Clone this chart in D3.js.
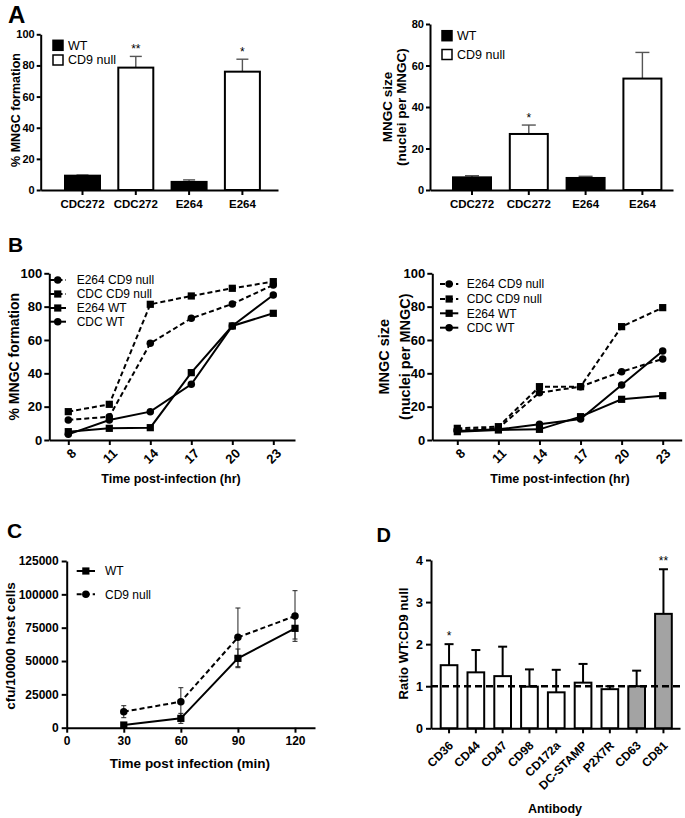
<!DOCTYPE html>
<html><head><meta charset="utf-8">
<script src="https://cdn.jsdelivr.net/npm/d3@7"></script>
<style>body{margin:0;background:#fff}svg{display:block}</style>
</head><body><svg id="c" width="685" height="818"></svg>
<script>
// ---------- Panel A data ----------
const strainsA = ["CDC272", "CDC272", "E264", "E264"];
const groupA = ["WT", "CD9 null", "WT", "CD9 null"];
const mngcFormation = [9.2, 78.6, 5.2, 76];
const mngcFormationErr = [0.4, 7.2, 1.3, 8];
const sigFormation = ["", "**", "", "*"];
const mngcSize = [6.1, 27, 5.8, 53.7];
const mngcSizeErr = [0.8, 4.3, 0.8, 12.6];
const sigSize = ["", "*", "", ""];
const ticksA1 = [0, 20, 40, 60, 80, 100];
const ticksA2 = [0, 20, 40, 60, 80];
const legendA = ["WT", "CD9 null"];

// ---------- Panel B data ----------
const timesB = [8, 11, 14, 17, 20, 23];
const seriesB = ["E264 CD9 null", "CDC CD9 null", "E264 WT", "CDC WT"];
const formE264Null = [12, 14, 58, 73, 81.6, 93];
const formCDCNull = [17, 21.4, 81.4, 86.4, 91, 95];
const formE264WT = [5, 7, 7.4, 40.4, 68.4, 76];
const formCDCWT = [3.4, 12, 17, 33.4, 68.4, 87];
const sizeE264Null = [6, 7, 28.4, 32, 41, 48.6];
const sizeCDCNull = [7, 8, 32, 32, 68, 79.4];
const sizeE264WT = [5, 6, 6.4, 14, 24.4, 26.6];
const sizeCDCWT = [5.4, 6.4, 9.4, 12.6, 33, 53.4];
const ticksB = [0, 20, 40, 60, 80, 100];

// ---------- Panel C data ----------
const timesC = [30, 60, 90, 120];
const cfuWT = [2000, 7000, 52000, 74500];
const cfuWTErr = [1000, 3750, 7000, 8000];
const cfuNull = [12000, 19500, 67750, 83750];
const cfuNullErr = [4500, 10500, 22000, 19000];
const ticksCx = [0, 30, 60, 90, 120];
const ticksCy = [0, 25000, 50000, 75000, 100000, 125000];
const seriesC = ["WT", "CD9 null"];

// ---------- Panel D data ----------
const antibodies = ["CD36", "CD44", "CD47", "CD98", "CD172a", "DC-STAMP", "P2X7R", "CD63", "CD81"];
const ratio = [1.5, 1.33, 1.24, 0.99, 0.855, 1.085, 0.93, 1.0, 2.72];
const ratioErr = [0.5, 0.53, 0.7, 0.41, 0.535, 0.445, 0.07, 0.37, 1.06];
const ratioSig = ["*", "", "", "", "", "", "", "", "**"];
const tetraspanin = [false, false, false, false, false, false, false, true, true];
const ticksD = [0, 1, 2, 3, 4];
const refLine = 1;

// ---------- helpers ----------
const FONT = '"Liberation Sans", Arial, Helvetica, sans-serif';
const svg = d3.select("#c").attr("font-family", FONT);

function mkBand(n, x0, x1, firstStart, step, bw) {
  const pi = 1 - bw / step;
  const L = x1 - x0;
  const po = (L / step - n + pi) / 2;
  const align = (firstStart - x0) / (L - step * (n - pi));
  return d3.scaleBand().domain(d3.range(n)).range([x0, x1])
    .paddingInner(pi).paddingOuter(po).align(align);
}
function styleAxis(g, fs) {
  g.attr("font-family", FONT).attr("font-size", fs).attr("font-weight", "bold");
  g.select(".domain").attr("stroke", "#000").attr("stroke-width", 2);
  g.selectAll(".tick line").attr("stroke", "#000").attr("stroke-width", 2);
  g.selectAll(".tick text").attr("fill", "#000");
}
function text(str, x, y, fs, o = {}) {
  const t = svg.append("text").attr("x", x).attr("y", y)
    .attr("font-size", fs).attr("font-weight", o.weight || "normal")
    .attr("text-anchor", o.anchor || "start").attr("fill", "#000").text(str);
  if (o.dy) t.attr("dy", o.dy);
  if (o.rotate) t.attr("transform", `rotate(${o.rotate},${x},${y})`);
  return t;
}
function yLabel(str, x, y, fs) {
  return text(str, x, y, fs, {weight: "bold", anchor: "middle", dy: "0.35em", rotate: -90});
}

// ---------- Panel A (bar charts) ----------
function barPanel(x, y, vals, errs, sig, yTicks, yFs, capW, errColor) {
  const g = svg.append("g");
  const cx = i => x(i) + x.bandwidth() / 2;
  g.selectAll("line.err").data(vals).join("line")
    .attr("x1", (d, i) => cx(i)).attr("x2", (d, i) => cx(i))
    .attr("y1", d => y(d)).attr("y2", (d, i) => y(d + errs[i]))
    .attr("stroke", errColor).attr("stroke-width", 1.4);
  g.selectAll("line.cap").data(vals).join("line")
    .attr("x1", (d, i) => cx(i) - capW / 2).attr("x2", (d, i) => cx(i) + capW / 2)
    .attr("y1", (d, i) => y(d + errs[i])).attr("y2", (d, i) => y(d + errs[i]))
    .attr("stroke", errColor).attr("stroke-width", 1.4);
  g.selectAll("rect").data(vals).join("rect")
    .attr("x", (d, i) => x(i)).attr("width", x.bandwidth())
    .attr("y", d => y(d)).attr("height", d => y(0) - y(d))
    .attr("fill", (d, i) => groupA[i] === "WT" ? "#000" : "#fff")
    .attr("stroke", "#000").attr("stroke-width", 2);
  g.selectAll("text.sig").data(vals).join("text")
    .attr("x", (d, i) => cx(i)).attr("y", (d, i) => y(d + errs[i]) - 3.5)
    .attr("text-anchor", "middle").attr("font-size", 12).text((d, i) => sig[i]);
  const ax = svg.append("g").attr("transform", `translate(0,${y(0)})`)
    .call(d3.axisBottom(x).tickSize(5).tickSizeOuter(0).tickPadding(5).tickFormat(i => strainsA[i]));
  styleAxis(ax, 11.5);
  const ay = svg.append("g").attr("transform", `translate(${x.range()[0]},0)`)
    .call(d3.axisLeft(y).tickValues(yTicks).tickSize(4).tickSizeOuter(0).tickPadding(2));
  styleAxis(ay, yFs);
}
function legendBoxes(x, ys, fs) {
  legendA.forEach((name, i) => {
    svg.append("rect").attr("x", x).attr("y", ys[i] - 5).attr("width", 10).attr("height", 10)
      .attr("fill", name === "WT" ? "#000" : "#fff").attr("stroke", "#000").attr("stroke-width", 1.5);
    text(name, x + 15, ys[i], fs, {dy: "0.35em"});
  });
}

const xA1 = mkBand(4, 40.7, 278, 65, 53.3, 35);
const yA1 = d3.scaleLinear().domain([0, 100]).range([190, 34.3]);
barPanel(xA1, yA1, mngcFormation, mngcFormationErr, sigFormation, ticksA1, 11, 12, "#555");
legendBoxes(53, [45.3, 60], 12.5);
yLabel("% MNGC formation", 16, 110, 12.5);

const xA2 = mkBand(4, 430, 673, 453, 56.8, 38);
const yA2 = d3.scaleLinear().domain([0, 80]).range([190, 24]);
barPanel(xA2, yA2, mngcSize, mngcSizeErr, sigSize, ticksA2, 11, 14, "#555");
legendBoxes(442, [35.7, 54.5], 12.5);
yLabel("MNGC size", 387.2, 107, 13.5);
yLabel("(nuclei per MNGC)", 401.7, 107, 13.5);

// ---------- line chart helpers ----------
function series(g, x, y, xs, vals, dashed, marker) {
  g.append("path").datum(vals)
    .attr("d", d3.line().x((d, i) => x(xs[i])).y(d => y(d)))
    .attr("fill", "none").attr("stroke", "#000").attr("stroke-width", 2)
    .attr("stroke-dasharray", dashed ? "5,3" : null);
  g.selectAll(null).data(vals).join("path")
    .attr("transform", (d, i) => `translate(${x(xs[i])},${y(d)})`)
    .attr("d", d3.symbol(marker === "square" ? d3.symbolSquare : d3.symbolCircle, marker === "square" ? 52 : 44)())
    .attr("fill", "#000");
}
function legendLine(x0, x1, y, label, dashed, marker, tx, fs) {
  svg.append("line").attr("x1", x0).attr("x2", x1).attr("y1", y).attr("y2", y)
    .attr("stroke", "#000").attr("stroke-width", 2).attr("stroke-dasharray", dashed ? "5,3" : null);
  svg.append("path").attr("transform", `translate(${(x0 + x1) / 2},${y})`)
    .attr("d", d3.symbol(marker === "square" ? d3.symbolSquare : d3.symbolCircle, marker === "square" ? 52 : 44)())
    .attr("fill", "#000");
  text(label, tx, y, fs, {dy: "0.35em"});
}

const styleB = [
  {dashed: true, marker: "circle"},
  {dashed: true, marker: "square"},
  {dashed: false, marker: "square"},
  {dashed: false, marker: "circle"}
];

function panelB(xFirst, xLast, axX0, axX1, data, legX0, legX1, legTx, legYs) {
  const x = d3.scaleLinear().domain([timesB[0], timesB[timesB.length - 1]]).range([xFirst, xLast]);
  const xAx = x.copy().domain([x.invert(axX0), x.invert(axX1)]).range([axX0, axX1]);
  const y = d3.scaleLinear().domain([0, 100]).range([440, 273.3]);
  const ax = svg.append("g").attr("transform", `translate(0,${y(0)})`)
    .call(d3.axisBottom(xAx).tickValues(timesB).tickSize(5).tickSizeOuter(0).tickFormat(d3.format("d")));
  styleAxis(ax, 13);
  ax.selectAll(".tick text").attr("x", 0).attr("y", 0).attr("dy", "0.35em")
    .attr("text-anchor", "end").attr("transform", "translate(5,11) rotate(-45)");
  const ay = svg.append("g").attr("transform", `translate(${axX0},0)`)
    .call(d3.axisLeft(y).tickValues(ticksB).tickSize(5).tickSizeOuter(0).tickPadding(2));
  styleAxis(ay, 13);
  const g = svg.append("g");
  data.forEach((vals, k) => series(g, x, y, timesB, vals, styleB[k].dashed, styleB[k].marker));
  seriesB.forEach((name, k) => legendLine(legX0, legX1, legYs[k], name, styleB[k].dashed, styleB[k].marker, legTx, 12));
}

panelB(68.3, 273.3, 49.3, 295, [formE264Null, formCDCNull, formE264WT, formCDCWT],
  49.5, 66, 76.7, [280, 294, 308, 321.7]);
yLabel("% MNGC formation", 14.2, 356.7, 14);
text("Time post-infection (hr)", 171, 483, 12.5, {weight: "bold", anchor: "middle"});

panelB(457.3, 662.7, 432.3, 681.7, [sizeE264Null, sizeCDCNull, sizeE264WT, sizeCDCWT],
  440, 458.3, 466.7, [284, 299, 313.3, 327.7]);
yLabel("MNGC size", 384.2, 356.7, 14.5);
yLabel("(nuclei per MNGC)", 405, 356.7, 14.5);
text("Time post-infection (hr)", 560, 483, 12.5, {weight: "bold", anchor: "middle"});

// ---------- Panel C ----------
{
  const x = d3.scaleLinear().domain([0, 120]).range([66.7, 295]);
  const xAx = x.copy().domain([0, x.invert(315)]).range([66.7, 315]);
  const y = d3.scaleLinear().domain([0, 125000]).range([727.7, 561]);
  const ax = svg.append("g").attr("transform", `translate(0,${y(0)})`)
    .call(d3.axisBottom(xAx).tickValues(ticksCx).tickSize(5).tickSizeOuter(0).tickPadding(4).tickFormat(d3.format("d")));
  styleAxis(ax, 12);
  const ay = svg.append("g").attr("transform", `translate(66.7,0)`)
    .call(d3.axisLeft(y).tickValues(ticksCy).tickSize(5).tickSizeOuter(0).tickPadding(3).tickFormat(d3.format("d")));
  styleAxis(ay, 12);
  const g = svg.append("g");
  const errBars = (vals, errs) => {
    vals.forEach((v, i) => {
      const cx = x(timesC[i]);
      g.append("line").attr("x1", cx).attr("x2", cx).attr("y1", y(v - errs[i])).attr("y2", y(v + errs[i]))
        .attr("stroke", "#222").attr("stroke-width", 1);
      [v - errs[i], v + errs[i]].forEach(e => g.append("line").attr("x1", cx - 2.5).attr("x2", cx + 2.5)
        .attr("y1", y(e)).attr("y2", y(e)).attr("stroke", "#222").attr("stroke-width", 1));
    });
  };
  errBars(cfuNull, cfuNullErr);
  errBars(cfuWT, cfuWTErr);
  series(g, x, y, timesC, cfuNull, true, "circle");
  series(g, x, y, timesC, cfuWT, false, "square");
  legendLine(76.7, 95, 571, seriesC[0], false, "square", 105, 12);
  legendLine(76.7, 95, 594.3, seriesC[1], true, "circle", 105, 12);
  yLabel("cfu/10000 host cells", 10, 646, 13.5);
  text("Time post infection (min)", 190, 768, 13.5, {weight: "bold", anchor: "middle"});
}

// ---------- Panel D ----------
{
  const x = mkBand(antibodies.length, 431, 680, 440.7, 26.8, 16.7);
  const y = d3.scaleLinear().domain([0, 4]).range([728.3, 560]);
  const g = svg.append("g");
  const cx = i => x(i) + x.bandwidth() / 2;
  g.selectAll("line.err").data(ratio).join("line")
    .attr("x1", (d, i) => cx(i)).attr("x2", (d, i) => cx(i))
    .attr("y1", d => y(d)).attr("y2", (d, i) => y(d + ratioErr[i]))
    .attr("stroke", "#000").attr("stroke-width", 2);
  g.selectAll("line.cap").data(ratio).join("line")
    .attr("x1", (d, i) => cx(i) - 4.5).attr("x2", (d, i) => cx(i) + 4.5)
    .attr("y1", (d, i) => y(d + ratioErr[i])).attr("y2", (d, i) => y(d + ratioErr[i]))
    .attr("stroke", "#000").attr("stroke-width", 2);
  g.selectAll("rect").data(ratio).join("rect")
    .attr("x", (d, i) => x(i)).attr("width", x.bandwidth())
    .attr("y", d => y(d)).attr("height", d => y(0) - y(d))
    .attr("fill", (d, i) => tetraspanin[i] ? "#a3a3a3" : "#fff")
    .attr("stroke", "#000").attr("stroke-width", 2);
  g.selectAll("text.sig").data(ratio).join("text")
    .attr("x", (d, i) => cx(i)).attr("y", (d, i) => y(d + ratioErr[i]) - 4)
    .attr("text-anchor", "middle").attr("font-size", 12).text((d, i) => ratioSig[i]);
  g.append("line").attr("x1", 431).attr("x2", 680).attr("y1", y(refLine)).attr("y2", y(refLine))
    .attr("stroke", "#000").attr("stroke-width", 2.5).attr("stroke-dasharray", "7,4");
  const ax = svg.append("g").attr("transform", `translate(0,${y(0)})`)
    .call(d3.axisBottom(x).tickSize(5).tickSizeOuter(0).tickFormat(i => antibodies[i]));
  styleAxis(ax, 12);
  ax.selectAll(".tick text").attr("x", 0).attr("y", 0).attr("dy", "0.35em")
    .attr("text-anchor", "end").attr("transform", "translate(2,15) rotate(-45)");
  const ay = svg.append("g").attr("transform", `translate(431,0)`)
    .call(d3.axisLeft(y).tickValues(ticksD).tickSize(5).tickSizeOuter(0).tickPadding(3).tickFormat(d3.format("d")));
  styleAxis(ay, 12.5);
  yLabel("Ratio WT:CD9 null", 403.3, 643.5, 13);
  text("Antibody", 555, 812.5, 12.5, {weight: "bold", anchor: "middle"});
}

// ---------- panel letters ----------
text("A", 8, 22.7, 24, {weight: "bold"});
text("B", 8, 251.7, 21, {weight: "bold"});
text("C", 7, 538.3, 21, {weight: "bold"});
text("D", 376.5, 542.3, 20, {weight: "bold"});
</script>
</body></html>
